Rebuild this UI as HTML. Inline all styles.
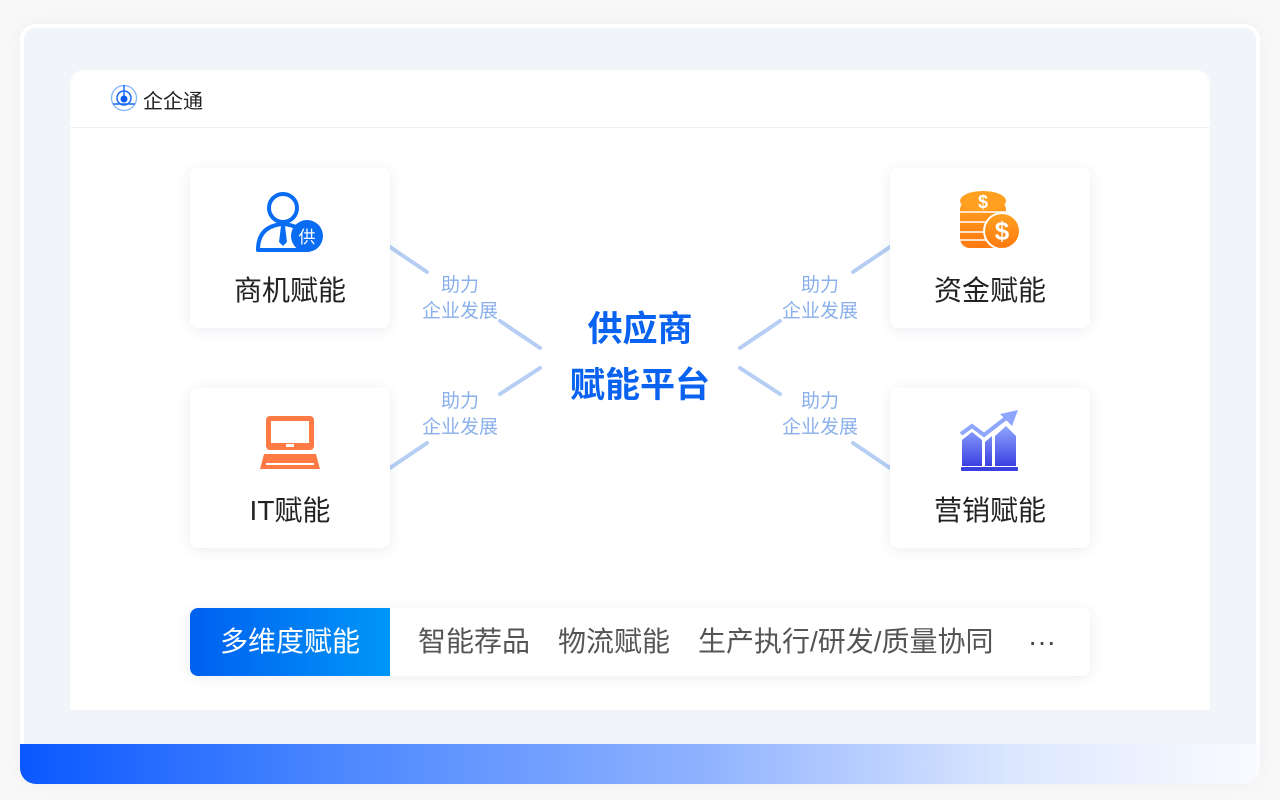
<!DOCTYPE html>
<html><head><meta charset="utf-8"><style>
*{margin:0;padding:0;box-sizing:border-box}
body{width:1280px;height:800px;background:#f8f8f9;position:relative;overflow:hidden;font-family:"Liberation Sans","Noto Sans CJK SC",sans-serif}
.outer{position:absolute;left:20px;top:24px;width:1240px;height:760px;background:#fff;border-radius:16px;box-shadow:0 0 20px rgba(0,0,0,0.04)}
.inner{position:absolute;left:24px;top:28px;width:1232px;height:716px;background:#f1f4f9;border-radius:12px 12px 0 0}
.bar{position:absolute;left:20px;top:744px;width:1240px;height:40px;border-radius:0 0 16px 16px;background:linear-gradient(90deg,#0a58ff 0%,#4a86ff 25%,#8fb2ff 55%,#dce7ff 80%,#fafbff 100%)}
.panel{position:absolute;left:70px;top:70px;width:1140px;height:640px;background:#fff;border-radius:14px 14px 0 0}
.hdr{position:absolute;left:70px;top:127px;width:1140px;height:1px;background:#eef1f6}
.logo{position:absolute;left:143px;top:85px;font-size:20px;color:#222}
.card{position:absolute;width:200px;height:160px;background:#fff;border-radius:8px;box-shadow:0 2px 14px rgba(30,50,100,0.09)}
.card .t{position:absolute;left:0;width:200px;top:101px;text-align:center;font-size:28px;color:#222}
.lbl{position:absolute;width:120px;text-align:center;font-size:19px;line-height:26px;color:#8ab0ec}
.center{position:absolute;left:520px;top:302px;width:240px;text-align:center;font-size:35px;font-weight:bold;color:#0a63f0;line-height:56px}
.strip{position:absolute;left:190px;top:608px;width:900px;height:68px;background:#fff;border-radius:8px;box-shadow:0 2px 14px rgba(30,50,100,0.09)}
.tag{position:absolute;left:190px;top:608px;width:200px;height:68px;border-radius:8px 0 0 8px;background:linear-gradient(90deg,#0060f0,#0096f8);color:#fff;font-size:28px;line-height:68px;text-align:center}
.it{position:absolute;top:608px;line-height:68px;font-size:28px;color:#555}
</style></head><body>
<div class="outer"></div>
<div class="inner"></div>
<div class="bar"></div>
<div class="panel"></div>
<div class="hdr"></div>
<svg style="position:absolute;left:109px;top:84px" width="30" height="28" viewBox="0 0 30 28">
<circle cx="15" cy="14" r="12.5" fill="none" stroke="#7fb0ff" stroke-width="1.2"/>
<circle cx="15" cy="14" r="7" fill="none" stroke="#1a6cf5" stroke-width="1.5"/>
<circle cx="15" cy="15" r="3.5" fill="#0a5cf0"/>
<line x1="15" y1="1" x2="15" y2="12" stroke="#1a6cf5" stroke-width="1.5"/>
<line x1="4" y1="20" x2="26" y2="20" stroke="#1a6cf5" stroke-width="1.5"/>
</svg>
<div class="logo">企企通</div>

<svg style="position:absolute;left:0;top:0" width="1280" height="800">
<g stroke="#b6cef4" stroke-width="4" stroke-linecap="round">
<line x1="390" y1="247" x2="427" y2="272"/><line x1="500" y1="321" x2="540" y2="348"/>
<line x1="390" y1="468" x2="427" y2="443"/><line x1="500" y1="394" x2="540" y2="368"/>
<line x1="890" y1="247" x2="853" y2="272"/><line x1="780" y1="321" x2="740" y2="348"/>
<line x1="890" y1="468" x2="853" y2="443"/><line x1="780" y1="394" x2="740" y2="368"/>
</g></svg>
<div class="lbl" style="left:400px;top:273px">助力<br>企业发展</div>
<div class="lbl" style="left:400px;top:389px">助力<br>企业发展</div>
<div class="lbl" style="left:760px;top:273px">助力<br>企业发展</div>
<div class="lbl" style="left:760px;top:389px">助力<br>企业发展</div>
<div class="center">供应商<br>赋能平台</div>

<div class="card" style="left:190px;top:168px">
<svg style="position:absolute;left:64px;top:20px" width="74" height="66" viewBox="0 0 74 66">
<circle cx="29" cy="20" r="14" fill="#fff" stroke="#0a6cf2" stroke-width="4"/>
<path d="M4 62 Q4 38 29 36 Q54 38 54 62 Z" fill="#fff" stroke="#0a6cf2" stroke-width="4" stroke-linejoin="round"/>
<path d="M27 38 L31 38 L33 54 L29 58 L25 54 Z" fill="#0a6cf2"/>
<circle cx="53" cy="48" r="16" fill="#0a6cf2"/>
<text x="53" y="55" text-anchor="middle" font-size="17" fill="#fff" font-family="Noto Sans CJK SC,sans-serif">供</text>
</svg>
<div class="t">商机赋能</div></div>

<div class="card" style="left:190px;top:388px">
<svg style="position:absolute;left:68px;top:25px" width="64" height="60" viewBox="0 0 64 60">
<rect x="8" y="3" width="48" height="34" rx="4" fill="#ff7a45"/>
<rect x="13" y="8" width="38" height="22" fill="#fff"/>
<rect x="28" y="31" width="8" height="3" fill="#fff"/>
<path d="M6 41 H58 L62 56 H2 Z" fill="#ff7a45"/>
<rect x="8" y="50" width="48" height="2" fill="#fff"/>
</svg>
<div class="t">IT赋能</div></div>

<div class="card" style="left:890px;top:168px">
<svg style="position:absolute;left:68px;top:22px" width="64" height="64" viewBox="0 0 64 64">
<defs><linearGradient id="o" x1="0" y1="0" x2="0" y2="1"><stop offset="0" stop-color="#ffa020"/><stop offset="1" stop-color="#ff7a10"/></linearGradient></defs>
<rect x="2" y="10" width="46" height="48" rx="10" fill="url(#o)"/>
<g stroke="#fff" stroke-width="1.5" fill="none"><path d="M2 22 H48 M2 32 H48 M2 42 H48 M2 50 H48"/></g>
<ellipse cx="25" cy="11" rx="23" ry="10" fill="#ffa020"/>
<text x="25" y="18" text-anchor="middle" font-size="18" font-weight="bold" fill="#fff">$</text>
<circle cx="44" cy="41" r="19" fill="#fff"/><circle cx="44" cy="41" r="17" fill="url(#o)"/>
<text x="44" y="50" text-anchor="middle" font-size="26" font-weight="bold" fill="#fff">$</text>
</svg>
<div class="t">资金赋能</div></div>

<div class="card" style="left:890px;top:388px">
<svg style="position:absolute;left:70px;top:22px" width="62" height="62" viewBox="0 0 62 62">
<defs><linearGradient id="p" x1="0" y1="0" x2="0" y2="1"><stop offset="0" stop-color="#8fa6ff"/><stop offset="1" stop-color="#3a3fe0"/></linearGradient></defs>
<path d="M2 30 L12 22 L22 30 L22 56 L2 56 Z M25 32 L32 26 L32 56 L25 56 Z M35 26 L46 16 L56 26 L56 56 L35 56 Z" fill="url(#p)"/>
<path d="M1 24 L12 16 L24 25 L46 8" stroke="#8fa6ff" stroke-width="4" fill="none"/>
<path d="M40 4 L58 0 L52 16 Z" fill="#8fa6ff"/>
<rect x="1" y="57" width="57" height="4" rx="1" fill="#3a3fe0"/>
</svg>
<div class="t">营销赋能</div></div>

<div class="strip"></div>
<div class="tag">多维度赋能</div>
<div class="it" style="left:418px">智能荐品</div>
<div class="it" style="left:558px">物流赋能</div>
<div class="it" style="left:698px">生产执行/研发/质量协同</div>
<div class="it" style="left:1028px;color:#444">···</div>
</body></html>
